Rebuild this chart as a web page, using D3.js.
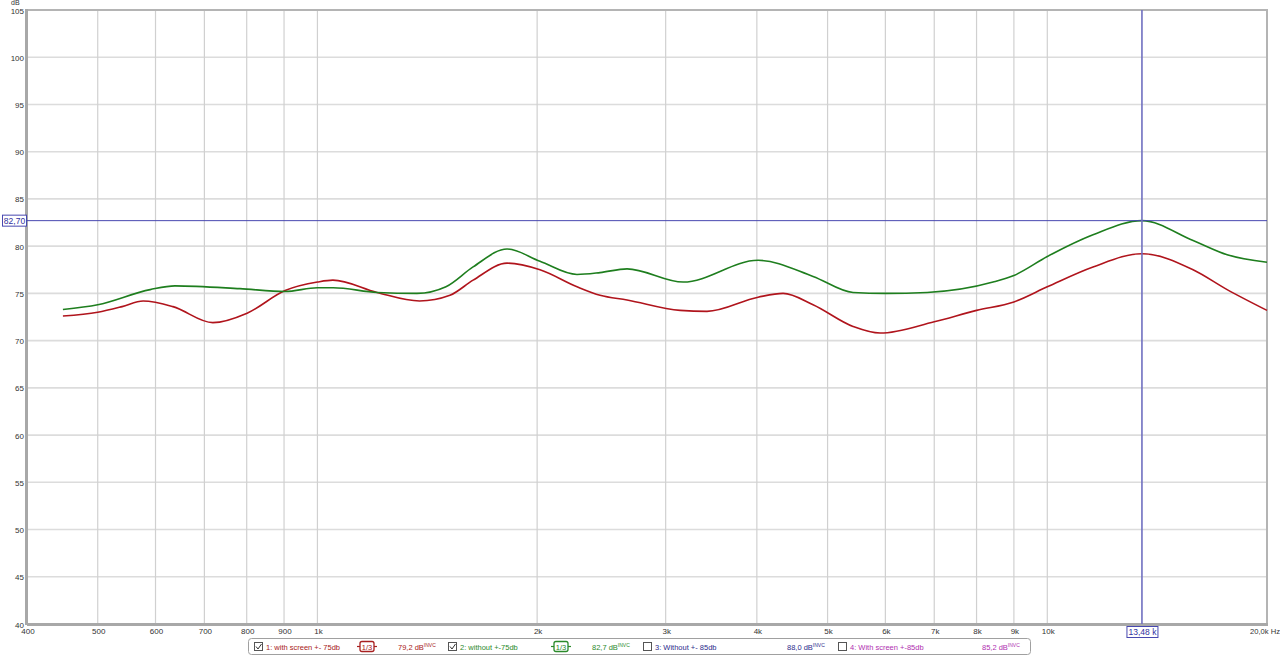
<!DOCTYPE html>
<html><head><meta charset="utf-8">
<script src="https://cdn.jsdelivr.net/npm/d3@7"></script>
<style>
html,body{margin:0;padding:0;background:#fff;}
svg{display:block;font-family:Arial,"Liberation Sans",sans-serif;}
</style></head>
<body><svg id="c" width="1280" height="655"></svg>
<script>
// ---- data ----
const redFreq = [448,500,540,577,634,719,801,903,1000,1050,1207,1380,1519,1634,1819,2018,2268,2439,2656,3140,3418,4015,4345,4776,5418,5901,7000,8000,9000,10000,11552,13480,15840,17636,20000];
const redDb   = [72.6,73.0,73.6,74.2,73.6,71.9,72.9,75.3,76.2,76.4,75.1,74.2,74.8,76.4,78.2,77.5,75.7,74.8,74.3,73.2,73.1,74.6,75.0,73.8,71.5,70.8,72.0,73.2,74.1,75.7,77.8,79.2,77.5,75.4,73.2];
const greenFreq = [448,500,590,638,783,903,1000,1051,1207,1369,1500,1634,1819,2018,2268,2439,2656,3170,4015,4776,5418,6000,6845,8428,9000,10000,11552,13480,15840,17636,20000];
const greenDb   = [73.3,73.8,75.4,75.8,75.5,75.2,75.6,75.6,75.1,75.0,75.7,77.8,79.7,78.4,77.0,77.2,77.6,76.2,78.5,76.8,75.1,75.0,75.1,76.2,76.9,78.9,81.2,82.7,80.6,79.1,78.3];
const yTicks = [40,45,50,55,60,65,70,75,80,85,90,95,100,105];
const xGrid = [400,500,600,700,800,900,1000,2000,3000,4000,5000,6000,7000,8000,9000,10000,20000];
const xLabels = ["400","500","600","700","800","900","1k","2k","3k","4k","5k","6k","7k","8k","9k","10k",""];
const cursorFreq = 13480, cursorDb = 82.70;
const legendItems = [
  {label:"1: with screen +- 75db", value:"79,2 dB", checked:true, smooth:true},
  {label:"2: without +-75db", value:"82,7 dB", checked:true, smooth:true},
  {label:"3: Without +- 85db", value:"88,0 dB", checked:false, smooth:false},
  {label:"4: With screen +-85db", value:"85,2 dB", checked:false, smooth:false}
];
const legendColors = ["#a82020","#2a8a2a","#2c2c8c","#b030b0"];

// ---- layout ----
const L=27, R=1267, T=10, B=624;
const svg = d3.select("#c");
const x = d3.scaleLog().domain([400,20000]).range([L,R]);
const y = d3.scaleLinear().domain([40,105]).range([B,T]);

// grid
svg.append("g").selectAll("line").data(yTicks).join("line")
  .attr("x1",L).attr("x2",R).attr("y1",d=>y(d)).attr("y2",d=>y(d))
  .attr("stroke","#dcdcdc").attr("stroke-width",1.6);
svg.append("g").selectAll("line").data(xGrid).join("line")
  .attr("x1",d=>x(d)).attr("x2",d=>x(d)).attr("y1",T).attr("y2",B)
  .attr("stroke","#d0d0d0").attr("stroke-width",1.2);

// frame
svg.append("rect").attr("x",L).attr("y",T).attr("width",R-L).attr("height",B-T)
  .attr("fill","none").attr("stroke","#b4b4b4").attr("stroke-width",2);
svg.append("line").attr("x1",L-0.5).attr("x2",L-0.5).attr("y1",T-1).attr("y2",B+1).attr("stroke","#a8a8a8").attr("stroke-width",3);
svg.append("line").attr("x1",L).attr("x2",R+1).attr("y1",B+0.5).attr("y2",B+0.5).attr("stroke","#a8a8a8").attr("stroke-width",3);

// y labels
svg.append("g").selectAll("text").data(yTicks).join("text")
  .attr("x",24).attr("y",d=>y(d)+3.5).attr("text-anchor","end")
  .attr("font-size",8).attr("fill","#333").text(d=>d);
svg.append("text").attr("x",11).attr("y",5).attr("font-size",7).attr("fill","#333").text("dB");

// x labels
svg.append("g").selectAll("text").data(xGrid).join("text")
  .attr("x",d=>x(d)+1).attr("y",634).attr("text-anchor","middle")
  .attr("font-size",8).attr("fill","#333").text((d,i)=>xLabels[i]);
svg.append("text").attr("x",1250).attr("y",634).attr("font-size",7.6).attr("fill","#333").text("20,0k Hz");

// curves
const line = d3.line().curve(d3.curveMonotoneX).x(d=>x(d[0])).y(d=>y(d[1]));
svg.append("path").datum(d3.zip(redFreq,redDb)).attr("d",line)
  .attr("fill","none").attr("stroke","#b0141c").attr("stroke-width",1.6);
svg.append("path").datum(d3.zip(greenFreq,greenDb)).attr("d",line)
  .attr("fill","none").attr("stroke","#1e7e1e").attr("stroke-width",1.6);

// cursor
svg.append("line").attr("x1",L).attr("x2",R).attr("y1",y(cursorDb)).attr("y2",y(cursorDb))
  .attr("stroke","#4848b0").attr("stroke-width",1);
svg.append("line").attr("x1",x(cursorFreq)).attr("x2",x(cursorFreq)).attr("y1",T).attr("y2",B)
  .attr("stroke","#7070c0").attr("stroke-width",1.6);
svg.append("rect").attr("x",2.5).attr("y",y(cursorDb)-5.5).attr("width",24).attr("height",11)
  .attr("fill","#fff").attr("stroke","#4848b0").attr("stroke-width",1);
svg.append("text").attr("x",14.5).attr("y",y(cursorDb)+3.5).attr("text-anchor","middle")
  .attr("font-size",8.5).attr("fill","#3030a0").text("82,70");
svg.append("rect").attr("x",x(cursorFreq)-15).attr("y",626.5).attr("width",31).attr("height",11)
  .attr("fill","#fff").attr("stroke","#4848b0").attr("stroke-width",1);
svg.append("text").attr("x",x(cursorFreq)+0.5).attr("y",635).attr("text-anchor","middle")
  .attr("font-size",8.5).attr("fill","#3030a0").text("13,48 k");

// legend
const lg = svg.append("g");
lg.append("rect").attr("x",248.5).attr("y",638.5).attr("width",782).attr("height",16).attr("rx",3)
  .attr("fill","#fff").attr("stroke","#a0a0a0");
const itemX = [254,448,643,838];
legendItems.forEach((it,i)=>{
  const x0 = itemX[i], c = legendColors[i];
  const g = lg.append("g");
  g.append("rect").attr("x",x0+0.5).attr("y",642.5).attr("width",8).attr("height",8)
    .attr("fill","#fff").attr("stroke","#555");
  if(it.checked) g.append("path").attr("d",`M${x0+2},${646.5} L${x0+4},${649} L${x0+7.5},${644}`)
    .attr("fill","none").attr("stroke","#333").attr("stroke-width",1);
  g.append("text").attr("x",x0+12).attr("y",649.5).attr("font-size",7.5).attr("fill",c).text(it.label);
  if(it.smooth){
    const sx = x0+103;
    g.append("line").attr("x1",sx).attr("x2",sx+20).attr("y1",646.5).attr("y2",646.5).attr("stroke",c).attr("stroke-width",1.2);
    g.append("rect").attr("x",sx+3).attr("y",641.5).attr("width",14).attr("height",10).attr("rx",2)
      .attr("fill","#fff").attr("stroke",c).attr("stroke-width",1.3);
    g.append("text").attr("x",sx+10).attr("y",649.5).attr("text-anchor","middle").attr("font-size",7.5).attr("fill",c).text("1/3");
  }
  const t = g.append("text").attr("x",x0+144).attr("y",649.5).attr("font-size",7.5).attr("fill",c);
  t.append("tspan").text(it.value);
  t.append("tspan").attr("dy",-3).attr("font-size",5).text("INVC");
});
</script></body></html>
